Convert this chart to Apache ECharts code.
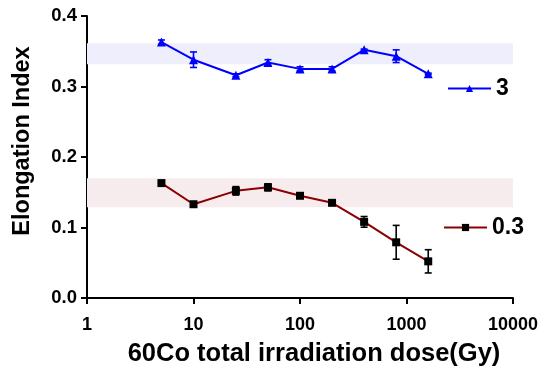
<!DOCTYPE html>
<html>
<head>
<meta charset="utf-8">
<script src="https://cdn.jsdelivr.net/npm/echarts@6/dist/echarts.min.js"></script>
<style>html,body{margin:0;padding:0;background:#fff;}#c{width:543px;height:372px;}</style>
</head>
<body>
<div id="c"></div>
<script>
// ---- data ----
const doses = [5, 10, 25, 50, 100, 200, 400, 800, 1600];
const series3Mean = [0.363, 0.338, 0.316, 0.334, 0.325, 0.325, 0.352, 0.343, 0.318];
const series3Err  = [0.003, 0.011, 0.002, 0.004, 0.003, 0.003, 0.001, 0.009, 0.001];
const series03Mean = [0.163, 0.133, 0.152, 0.157, 0.145, 0.135, 0.108, 0.079, 0.052];
const series03Err  = [0.001, 0.003, 0.006, 0.005, 0.003, 0.002, 0.0076, 0.024, 0.0165];
const band3 = [0.3315, 0.3615];
const band03 = [0.1286, 0.170];
const xTickLabels = ['1', '10', '100', '1000', '10000'];
const yTickLabels = ['0.0', '0.1', '0.2', '0.3', '0.4'];
const seriesNames = ['3', '0.3'];

const FONT = 'Liberation Sans';
const chart = echarts.init(document.getElementById('c'), null, {renderer: 'canvas'});

function errRender(color) {
  return function (params, api) {
    const x = api.value(0), lo = api.value(1), hi = api.value(2);
    const p1 = api.coord([x, lo]), p2 = api.coord([x, hi]);
    const w = 3.5;
    const st = {stroke: color, lineWidth: 1.6};
    return {type: 'group', children: [
      {type: 'line', shape: {x1: p1[0], y1: p1[1], x2: p2[0], y2: p2[1]}, style: st},
      {type: 'line', shape: {x1: p1[0] - w, y1: p1[1], x2: p1[0] + w, y2: p1[1]}, style: st},
      {type: 'line', shape: {x1: p2[0] - w, y1: p2[1], x2: p2[0] + w, y2: p2[1]}, style: st}
    ]};
  };
}

const lineData3 = doses.map((d, i) => [d, series3Mean[i]]);
const lineData03 = doses.map((d, i) => [d, series03Mean[i]]);
const errData3 = doses.map((d, i) => [d, series3Mean[i] - series3Err[i], series3Mean[i] + series3Err[i]]);
const errData03 = doses.map((d, i) => [d, series03Mean[i] - series03Err[i], series03Mean[i] + series03Err[i]]);

const legendText = {fontFamily: FONT, fontWeight: 'bold', fontSize: 23, color: '#000'};

const option = {
  animation: false,
  backgroundColor: '#fff',
  grid: {left: 87, right: 30, top: 16, bottom: 69},
  legend: [
    {data: [seriesNames[0]], left: 447, top: 77, padding: 0, itemWidth: 43, itemHeight: 9, textStyle: legendText},
    {data: [seriesNames[1]], left: 443, top: 216, padding: 0, itemWidth: 43, itemHeight: 9, textStyle: legendText}
  ],
  xAxis: {
    type: 'log', logBase: 10, min: 1, max: 10000,
    name: '60Co total irradiation dose(Gy)', nameLocation: 'middle', nameGap: 43,
    nameTextStyle: {fontFamily: FONT, fontWeight: 'bold', fontSize: 25.5, color: '#000', padding: [0, 0, 0, 28]},
    axisLine: {lineStyle: {color: '#000', width: 2}},
    axisTick: {show: true, length: 6, lineStyle: {color: '#000', width: 2}},
    axisLabel: {margin: 18, fontFamily: FONT, fontWeight: 'bold', fontSize: 18, color: '#000',
      formatter: v => xTickLabels[Math.round(Math.log10(v))] || ''},
    splitLine: {show: false}, minorTick: {show: false}
  },
  yAxis: {
    type: 'value', min: 0, max: 0.4, interval: 0.1,
    name: 'Elongation Index', nameLocation: 'middle', nameGap: 52, nameRotate: 90,
    nameTextStyle: {fontFamily: FONT, fontWeight: 'bold', fontSize: 23.5, color: '#000', padding: [0, 0, 0, 32]},
    axisLine: {show: true, lineStyle: {color: '#000', width: 2}},
    axisTick: {show: true, length: 6, lineStyle: {color: '#000', width: 2}},
    axisLabel: {margin: 10, fontFamily: FONT, fontWeight: 'bold', fontSize: 18.5, color: '#000',
      formatter: v => yTickLabels[Math.round(v * 10)]},
    splitLine: {show: false}
  },
  series: [
    {
      name: seriesNames[0], type: 'line', data: lineData3, z: 3,
      symbol: 'triangle', symbolSize: 9,
      itemStyle: {color: '#0000FF'}, lineStyle: {color: '#0000FF', width: 2},
      markArea: {silent: true, data: [
        [{yAxis: band3[0], itemStyle: {color: '#EEEEFC'}}, {yAxis: band3[1]}],
        [{yAxis: band03[0], itemStyle: {color: '#F6ECEE'}}, {yAxis: band03[1]}]
      ]}
    },
    {
      name: seriesNames[1], type: 'line', data: lineData03, z: 3,
      symbol: 'rect', symbolSize: 8,
      itemStyle: {color: '#000'}, lineStyle: {color: '#8B0000', width: 2}
    },
    {type: 'custom', data: errData3, renderItem: errRender('#0000FF'), z: 4, silent: true},
    {type: 'custom', data: errData03, renderItem: errRender('#000'), z: 4, silent: true}
  ]
};
chart.setOption(option);
</script>
</body>
</html>
